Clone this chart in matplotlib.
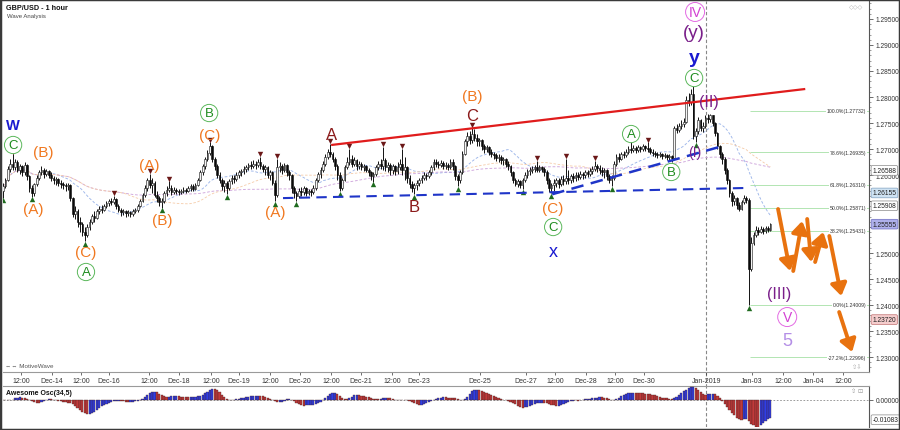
import numpy as np
import pandas as pd
import matplotlib
matplotlib.use("Agg")
import matplotlib.pyplot as plt
from matplotlib.patches import Rectangle
from matplotlib.ticker import MultipleLocator, FixedLocator
import matplotlib.transforms as mtransforms

plt.rcParams['font.family'] = ['Liberation Sans', 'DejaVu Sans']

# hourly GBP/USD bars, pips above 1.2000, bar index = hours since chart start
close = [
    628, 640, 662, 672, 665, 675, 660, 668, 655, 670,
    648, 625, 615, 632, 645, 655, 660, 652, 657, 650,
    645, 640, 642, 635, 632, 630, 628, 630, 605, 575,
    580, 560, 555, 540, 535, 550, 560, 572, 568, 580,
    585, 582, 590, 596, 600, 598, 604, 590, 582, 578,
    580, 576, 578, 575, 580, 582, 590, 600, 612, 625,
    640, 630, 635, 612, 605, 598, 600, 615, 622, 625,
    618, 622, 620, 617, 620, 622, 620, 625, 628, 624,
    630, 640, 655, 668, 680, 692, 705, 680, 668, 650,
    640, 628, 635, 625, 638, 645, 642, 650, 655, 658,
    662, 665, 670, 668, 672, 670, 675, 668, 662, 665,
    650, 655, 635, 612, 665, 668, 660, 670, 655, 650,
    625, 615, 610, 620, 618, 625, 615, 620, 617, 625,
    640, 652, 660, 672, 685, 694, 690, 680, 668, 650,
    625, 640, 665, 675, 680, 672, 678, 668, 672, 665,
    668, 660, 655, 648, 652, 665, 672, 668, 678, 665,
    670, 660, 668, 658, 665, 672, 660, 665, 645, 632,
    625, 630, 635, 640, 645, 650, 648, 655, 665, 675,
    672, 670, 674, 668, 670, 665, 675, 668, 648, 640,
    655, 690, 715, 725, 718, 728, 722, 715, 718, 705,
    700, 703, 695, 690, 688, 682, 685, 678, 680, 672,
    668, 655, 640, 632, 638, 630, 640, 650, 658, 660,
    662, 665, 660, 665, 662, 655, 640, 625, 630, 635,
    640, 632, 642, 638, 645, 640, 648, 644, 650, 646,
    652, 650, 655, 652, 658, 662, 668, 664, 660, 655,
    660, 648, 640, 645, 672, 685, 680, 690, 688, 695,
    700, 698, 702, 698, 704, 700, 705, 702, 700, 695,
    692, 690, 688, 690, 686, 688, 684, 686, 682, 740,
    736, 745, 748, 752, 795, 790, 805, 725, 735, 755,
    740, 745, 760, 758, 765, 750, 730, 705, 690, 680,
    660, 640, 615, 600, 605, 592, 585, 598, 605, 602,
    470, 520, 535, 545, 540, 546, 542, 548, 545, 555,
]
high = [
    635, 645, 668, 680, 690, 680, 678, 672, 670, 675,
    672, 650, 630, 635, 650, 660, 667, 664, 662, 660,
    655, 648, 646, 645, 640, 636, 635, 634, 632, 608,
    590, 585, 570, 560, 550, 555, 565, 575, 580, 585,
    590, 592, 594, 600, 604, 606, 610, 606, 594, 586,
    584, 582, 582, 580, 584, 586, 594, 604, 615, 630,
    645, 652, 645, 638, 620, 610, 606, 620, 628, 638,
    630, 626, 625, 624, 624, 626, 625, 628, 632, 632,
    634, 645, 660, 672, 685, 698, 713, 708, 685, 672,
    655, 645, 640, 638, 642, 650, 650, 655, 660, 662,
    668, 670, 674, 676, 678, 676, 680, 685, 672, 670,
    668, 660, 658, 640, 681, 675, 672, 674, 672, 660,
    652, 628, 620, 625, 626, 628, 627, 624, 624, 630,
    645, 656, 665, 676, 690, 700, 710, 695, 684, 672,
    655, 645, 670, 685, 700, 688, 684, 680, 676, 675,
    672, 670, 664, 658, 656, 670, 676, 680, 704, 682,
    675, 674, 672, 670, 675, 680, 700, 685, 668, 650,
    638, 635, 640, 645, 650, 655, 654, 660, 670, 680,
    680, 676, 678, 676, 675, 674, 680, 680, 670, 652,
    660, 696, 720, 732, 735, 742, 738, 728, 722, 720,
    710, 708, 706, 700, 695, 692, 690, 688, 684, 683,
    676, 670, 658, 645, 642, 640, 645, 655, 662, 665,
    668, 670, 677, 670, 668, 666, 660, 645, 635, 642,
    645, 644, 648, 650, 681, 660, 652, 654, 655, 656,
    658, 656, 660, 660, 664, 668, 677, 672, 670, 665,
    664, 662, 652, 650, 676, 690, 692, 695, 696, 700,
    705, 713, 707, 705, 708, 706, 710, 708, 713, 704,
    700, 696, 694, 694, 692, 692, 690, 690, 688, 745,
    748, 750, 755, 760, 802, 808, 815, 821, 740, 762,
    758, 752, 765, 767, 768, 766, 752, 732, 708, 694,
    684, 664, 642, 620, 612, 608, 598, 602, 612, 610,
    606, 530, 540, 552, 550, 552, 550, 552, 552, 558,
]
low = [
    606, 625, 638, 655, 660, 660, 655, 652, 648, 650,
    640, 618, 608, 610, 628, 640, 650, 645, 648, 645,
    638, 632, 630, 628, 625, 624, 620, 622, 600, 570,
    565, 550, 540, 532, 523, 530, 545, 555, 560, 565,
    575, 576, 580, 586, 590, 592, 595, 585, 578, 572,
    574, 570, 572, 570, 572, 576, 578, 588, 598, 608,
    620, 625, 615, 608, 598, 590, 587, 596, 610, 618,
    612, 614, 614, 612, 614, 616, 615, 617, 620, 620,
    622, 628, 638, 650, 662, 676, 688, 675, 660, 645,
    635, 622, 618, 613, 622, 632, 635, 638, 645, 648,
    652, 655, 660, 662, 664, 662, 666, 662, 655, 650,
    645, 640, 630, 600, 608, 655, 652, 655, 648, 640,
    615, 605, 600, 605, 610, 612, 610, 612, 610, 614,
    622, 636, 645, 655, 668, 680, 684, 675, 660, 640,
    619, 622, 638, 662, 670, 665, 668, 660, 662, 660,
    658, 655, 648, 640, 637, 648, 660, 662, 660, 658,
    655, 650, 652, 650, 652, 660, 650, 640, 635, 625,
    618, 613, 622, 628, 635, 640, 640, 645, 650, 660,
    665, 664, 666, 662, 662, 660, 662, 660, 640, 629,
    635, 652, 688, 705, 710, 712, 715, 705, 705, 698,
    692, 694, 688, 684, 680, 676, 675, 672, 670, 666,
    660, 648, 635, 628, 626, 625, 623, 636, 645, 650,
    654, 656, 655, 656, 655, 648, 632, 618, 615, 620,
    626, 625, 628, 630, 632, 632, 634, 636, 638, 640,
    642, 642, 645, 646, 648, 652, 658, 656, 652, 648,
    645, 640, 634, 629, 640, 668, 675, 678, 682, 684,
    690, 692, 694, 692, 695, 694, 696, 696, 694, 690,
    686, 684, 682, 684, 680, 682, 678, 678, 675, 680,
    730, 732, 738, 742, 750, 782, 785, 719, 713, 728,
    735, 732, 740, 750, 752, 745, 725, 700, 682, 672,
    652, 632, 608, 590, 592, 585, 580, 582, 595, 596,
    400, 465, 515, 530, 534, 538, 536, 538, 540, 542,
]
first_open = 620

# swing pivots (bar index)
pivot_high_bars = [4, 46, 61, 69, 86, 107, 114, 136, 144, 158, 166, 195, 222, 234, 246, 261, 268, 287]
pivot_low_bars = [0, 12, 34, 66, 93, 113, 122, 140, 154, 171, 189, 216, 228, 253, 278, 288, 310]

# time axis
tick_hours = [7.5, 20.4, 32.4, 44.1, 60.7, 73.2, 86.5, 98.1, 111.0, 123.5, 136.4, 148.9,
              161.7, 173.0, 198.3, 217.5, 229.5, 242.4, 254.5, 266.5, 292.3, 311.4,
              324.3, 336.8, 349.3]
tick_labels = ['12:00', 'Dec-14', '12:00', 'Dec-16', '12:00', 'Dec-18', '12:00', 'Dec-19',
               '12:00', 'Dec-20', '12:00', 'Dec-21', '12:00', 'Dec-23', 'Dec-25', 'Dec-27',
               '12:00', 'Dec-28', '12:00', 'Dec-30', 'Jan-2019', 'Jan-03', '12:00', 'Jan-04',
               '12:00']
new_year_hour = 292.3

# fibonacci levels
fib_pct = ['100.0%', '78.6%', '61.8%', '50.0%', '38.2%', '0.0%', '-27.2%']
fib_price = [1.27732, 1.26935, 1.26310, 1.25871, 1.25431, 1.24009, 1.22996]
fib_start_hour = 310.6

# trend lines (hour, price)
resist_line = [(136.4, 1.27077), (333.5, 1.28154)]
support_line = [(116.4, 1.26056), (308.1, 1.26250)]
rising_line = [(228.3, 1.26130), (297.7, 1.27038)]

# forecast path (hour, price) pairs
forecast = [
    ((322.2, 1.25846), (327.2, 1.24654)),
    ((328.5, 1.24654), (332.2, 1.25615)),
    ((334.3, 1.25654), (336.0, 1.24827)),
    ((337.6, 1.24827), (341.0, 1.25404)),
    ((343.5, 1.25327), (348.5, 1.24173)),
    ((347.6, 1.23865), (353.0, 1.23096)),
]

# wave labels
wave_text = ['W', 'C', '(B)', '(A)', '(C)', 'A', '(A)', '(B)', '(C)', 'B', '(A)',
             'A', 'B', '(B)', 'C', '(C)', 'C', 'x', 'A', 'B', '(I)', 'C', 'y', '(y)',
             'IV', '(II)', '(III)', 'V', '5']
wave_hour = [4.2, 4.2, 16.6, 12.5, 34.5, 34.5, 60.7, 66.1, 86.1, 85.7, 113.1,
             136.4, 170.9, 195.0, 195.0, 228.7, 228.7, 228.7, 261.1, 277.8, 287.7, 287.3, 287.3, 287.3,
             287.7, 293.6, 322.7, 326.0, 326.0]
wave_price = [1.27462, 1.27077, 1.26942, 1.25846, 1.25019, 1.24635, 1.26692, 1.25635, 1.27269, 1.27692, 1.25788,
              1.27288, 1.25904, 1.28019, 1.27635, 1.25865, 1.25500, 1.25038, 1.27288, 1.26558, 1.26942,
              1.28365, 1.28750, 1.29231, 1.29635, 1.27923, 1.24212, 1.23769, 1.23327]
wave_kind = ['blue', 'green', 'orange', 'orange', 'orange', 'green', 'orange', 'orange', 'orange', 'green', 'orange',
             'darkred', 'darkred', 'orange', 'darkred', 'orange', 'green', 'bluex', 'green', 'green', 'purple_s',
             'green', 'bluey', 'purple_l', 'magenta', 'purple', 'purple', 'magenta', 'lavender']

# right-axis price flags
flag_price = [1.26588, 1.26155, 1.25908, 1.25555, 1.23720]
flag_face = ['white', '#cfe3f3', 'white', '#aeb0ea', '#f4cccc']
flag_edge = ['#888888', '#7fa0c0', '#888888', '#6c6cc0', '#c07070']
hidden_axis_labels = [1.255, 1.260]  # covered by flags

# ------------------------------------------------------------------
c = 1.2 + np.array(close) / 10000.0
hi = 1.2 + np.array(high) / 10000.0
lo = 1.2 + np.array(low) / 10000.0
o = np.r_[1.2 + first_open / 10000.0, c[:-1]]
hi = np.maximum(hi, np.maximum(o, c))
lo = np.minimum(lo, np.minimum(o, c))
x = np.arange(len(c))

fig = plt.figure(figsize=(9, 4.31), dpi=100)
W, H = 900.0, 431.0
ax = fig.add_axes([3 / W, 1 - 373 / H, 866 / W, 371 / H])
osc = fig.add_axes([3 / W, 1 - 428 / H, 866 / W, 41 / H])

ax.set_xlim(0, 360)
ax.set_ylim(1.22712, 1.29846)
osc.set_xlim(0, 360)
osc.set_ylim(-0.01476, 0.0074)

# moving averages
cs = pd.Series(c)
ax.plot(x, cs.rolling(20, min_periods=1).mean(), color='#9db6ea', lw=0.65, ls=(0, (3, 2)), zorder=2)
ax.plot(x, cs.rolling(100, min_periods=1).mean(), color='#cfa6dc', lw=0.65, ls=(0, (3, 2)), zorder=2)
ax.plot(x, cs.rolling(50, min_periods=1).mean(), color='#f5cba8', lw=0.6, ls=(0, (3, 2)), zorder=2)

# candles
ax.vlines(x, lo, hi, color='#111111', lw=0.7, zorder=3)
up = c >= o
ax.bar(x[up], (c - o)[up], bottom=o[up], width=0.72, color='#f4f4f4', edgecolor='#111111', lw=0.4, zorder=4)
ax.bar(x[~up], (o - c)[~up], bottom=c[~up], width=0.72, color='#0a0a0a', edgecolor='#0a0a0a', lw=0.4, zorder=4)

# pivots
ax.scatter(x[pivot_high_bars], hi[pivot_high_bars] + 0.0005, marker='v', s=15, color='#6b1818', zorder=5, lw=0)
ax.scatter(x[pivot_low_bars], lo[pivot_low_bars] - 0.0005, marker='^', s=15, color='#1f6b1f', zorder=5, lw=0)

# trend lines
ax.plot(*zip(*resist_line), color='#e01c1c', lw=1.6, zorder=6, solid_capstyle='butt')
ax.plot(*zip(*support_line), color='#1f35c8', lw=1.5, ls=(0, (5, 3)), zorder=6)
ax.plot(*zip(*rising_line), color='#1f35c8', lw=1.8, ls=(0, (5, 3)), zorder=6)

# fibonacci
ax.hlines(fib_price, fib_start_hour, 360, color='#a6e0a6', lw=0.6, zorder=2)
for pct, p in zip(fib_pct, fib_price):
    ax.text(358.8, p, f"{pct}({p:.5f})", ha='right', va='center', fontsize=3.7, color='#333333',
            zorder=7, bbox=dict(boxstyle='square,pad=0.15', fc='white', ec='none'))

# new year separator
ax.axvline(new_year_hour, ymin=-0.04, ymax=1, color='#888888', lw=0.8, ls=(0, (3, 2)), clip_on=False, zorder=1)
osc.axvline(new_year_hour, color='#888888', lw=0.8, ls=(0, (3, 2)), zorder=1)

# forecast arrows
for (x0, y0), (x1, y1) in forecast:
    ax.annotate('', xy=(x1, y1), xytext=(x0, y0),
                arrowprops=dict(arrowstyle='-|>,head_length=0.6,head_width=0.4', color='#e8720f',
                                lw=2.8, mutation_scale=12, shrinkA=0, shrinkB=0), zorder=8)

# wave labels
styles = {
    'orange': dict(color='#f07820', fontsize=11),
    'darkred': dict(color='#8b1a1a', fontsize=12),
    'blue': dict(color='#1a1ad0', fontsize=10.5, fontweight='bold'),
    'bluex': dict(color='#1a1ad0', fontsize=13),
    'bluey': dict(color='#1a1ad0', fontsize=14, fontweight='bold'),
    'purple': dict(color='#7a1f8a', fontsize=11.5),
    'purple_s': dict(color='#7a1f8a', fontsize=10),
    'purple_l': dict(color='#7a1f8a', fontsize=13.5),
    'lavender': dict(color='#b48ee6', fontsize=13),
    'green': dict(color='#1e8c1e', fontsize=9.5,
                  bbox=dict(boxstyle='circle,pad=0.2', fc='white', ec='#5cb85c', lw=0.7)),
    'magenta': dict(color='#d23fd2', fontsize=10,
                    bbox=dict(boxstyle='circle,pad=0.18', fc='white', ec='#e36ae3', lw=0.7)),
}
for t, h, p, k in zip(wave_text, wave_hour, wave_price, wave_kind):
    ax.text(h, p, t, ha='center', va='center', zorder=9, **styles[k])

# axes styling
for s in ['top', 'left']:
    ax.spines[s].set_visible(False)
ax.spines['bottom'].set_color('#9a9a9a')
ax.spines['right'].set_color('#555555')
ax.spines['right'].set_linewidth(0.8)
ax.yaxis.tick_right()
ax.yaxis.set_major_locator(FixedLocator(np.arange(1.230, 1.2951, 0.005)))
ax.yaxis.set_minor_locator(MultipleLocator(0.001))
ax.yaxis.set_major_formatter(plt.FuncFormatter(
    lambda v, _: '' if any(abs(v - h) < 1e-6 for h in hidden_axis_labels) else f"{v:.5f}"))
ax.tick_params(axis='y', which='major', length=3, width=0.5, pad=1.5, labelsize=4.8, colors='#333333')
ax.tick_params(axis='y', which='minor', length=1.5, width=0.4, colors='#555555')
ax.set_xticks(tick_hours, tick_labels)
ax.tick_params(axis='x', length=2.5, width=0.5, pad=1, labelsize=5, colors='#333333')

for s in ['bottom', 'left']:
    osc.spines[s].set_visible(False)
osc.spines['top'].set_color('#9a9a9a')
osc.spines['right'].set_color('#555555')
osc.spines['right'].set_linewidth(0.8)
osc.set_xticks([])
osc.yaxis.tick_right()
osc.set_yticks([0.0], ['0.00000'])
osc.tick_params(axis='y', length=3, width=0.5, pad=1.5, labelsize=4.8, colors='#333333')

# price flags on the right axis
blend = mtransforms.blended_transform_factory(ax.transAxes, ax.transData)
for p, fc, ec in zip(flag_price, flag_face, flag_edge):
    ax.text(1.004, p, f"{p:.5f}", transform=blend, ha='left', va='center', fontsize=4.8,
            color='#222222', clip_on=False, zorder=10,
            bbox=dict(boxstyle='round,pad=0.2', fc=fc, ec=ec, lw=0.5))

# awesome oscillator
med = pd.Series((hi + lo) / 2.0)
ao = (med.rolling(5, min_periods=1).mean() - med.rolling(34, min_periods=1).mean()).values
rising = np.r_[True, np.diff(ao) >= 0]
cols = np.where(rising, '#2f3ee6', '#c23a3a')
osc.bar(x, ao, width=0.9, color=cols, edgecolor='#402020', lw=0.25, zorder=3)
osc.axhline(0, color='#8a8a8a', lw=0.6, ls=(0, (2, 2)), zorder=2)
blend_o = mtransforms.blended_transform_factory(osc.transAxes, osc.transData)
osc.text(1.004, -0.01083, '-0.01083', transform=blend_o, ha='left', va='center', fontsize=4.8,
         color='#222222', clip_on=False, bbox=dict(boxstyle='round,pad=0.2', fc='white', ec='#888888', lw=0.5))
osc.text(0.003, 0.93, 'Awesome Osc(34,5)', transform=osc.transAxes, ha='left', va='top',
         fontsize=5, fontweight='bold', color='#111111', zorder=10)
osc.text(0.993, 0.95, '⇧ ⊡', transform=osc.transAxes, ha='right', va='top', fontsize=4.5, color='#999999')

# headers and decorations
ax.text(0.004, 0.992, 'GBP/USD - 1 hour', transform=ax.transAxes, ha='left', va='top',
        fontsize=5.2, fontweight='bold', color='#111111')
ax.text(0.005, 0.968, 'Wave Analysis', transform=ax.transAxes, ha='left', va='top',
        fontsize=4.3, color='#444444')
ax.text(0.002, 0.012, '⇔⇔ MotiveWave', transform=ax.transAxes, ha='left', va='bottom',
        fontsize=4.5, color='#555555')
ax.text(0.993, 0.99, '◇◇◇', transform=ax.transAxes, ha='right', va='top', fontsize=4.5, color='#aaaaaa')
ax.text(0.993, 0.008, '⇧⇩', transform=ax.transAxes, ha='right', va='bottom', fontsize=4.5, color='#aaaaaa')

fig.add_artist(Rectangle((0, 0), 1, 1, transform=fig.transFigure, fill=False, ec='#3a3a3a', lw=2.5))

fig.savefig('out.png', dpi=100)
